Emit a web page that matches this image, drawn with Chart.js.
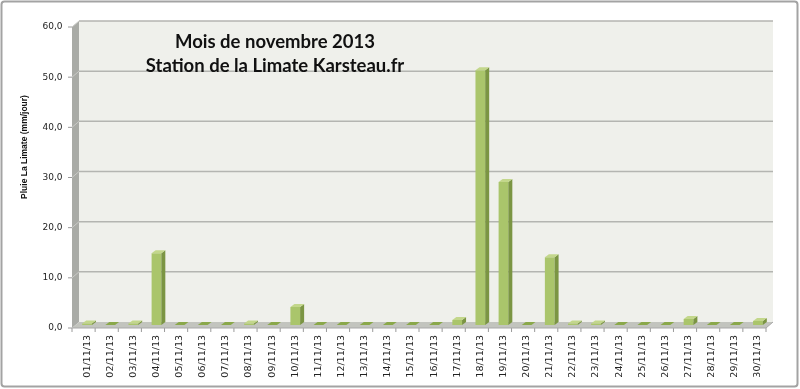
<!DOCTYPE html>
<html>
<head>
<meta charset="utf-8">
<script src="https://cdn.jsdelivr.net/npm/chart.js@4.4.0/dist/chart.umd.min.js"></script>
<style>
  html, body { margin: 0; padding: 0; background: #fff; }
  #wrap { width: 800px; height: 389px; position: relative; }
</style>
</head>
<body>
<div id="wrap"><canvas id="rainChart"></canvas></div>
<script>
const days = ['01/11/13', '02/11/13', '03/11/13', '04/11/13', '05/11/13', '06/11/13', '07/11/13', '08/11/13', '09/11/13', '10/11/13',
              '11/11/13', '12/11/13', '13/11/13', '14/11/13', '15/11/13', '16/11/13', '17/11/13', '18/11/13', '19/11/13', '20/11/13',
              '21/11/13', '22/11/13', '23/11/13', '24/11/13', '25/11/13', '26/11/13', '27/11/13', '28/11/13', '29/11/13', '30/11/13'];
const rain = [0.3, 0, 0.3, 14.3, 0, 0, 0, 0.3, 0, 3.6,
              0, 0, 0, 0, 0, 0, 1.0, 50.8, 28.5, 0,
              13.5, 0.3, 0.3, 0, 0, 0, 1.2, 0, 0, 0.8];
const yMax = 60;
const yStep = 10;
const titleLines = ['Mois de novembre 2013', 'Station de la Limate Karsteau.fr'];
const yTitle = 'Pluie La Limate (mm/jour)';

// 3d look: walls depth and bar depth (pixels)
const WALL_DX = 7, WALL_DY = 6;
const BAR_DX = 4, BAR_DY = 3;

function poly(ctx, pts, fill) {
    ctx.beginPath();
    ctx.moveTo(pts[0][0], pts[0][1]);
    for (let i = 1; i < pts.length; i++) ctx.lineTo(pts[i][0], pts[i][1]);
    ctx.closePath();
    ctx.fillStyle = fill;
    ctx.fill();
}

function line(ctx, x1, y1, x2, y2, color, w) {
    ctx.beginPath();
    ctx.moveTo(x1, y1);
    ctx.lineTo(x2, y2);
    ctx.strokeStyle = color;
    ctx.lineWidth = w;
    ctx.stroke();
}

const wallsPlugin = {
    id: 'walls',
    beforeDraw(chart) {
        const ctx = chart.ctx;
        const a = chart.chartArea;
        const ys = chart.scales.y;
        const xs = chart.scales.x;
        const hx = WALL_DX / 2, hy = WALL_DY / 2;
        // back plane and front plane around the middle one (chartArea)
        const bl = a.left + hx, br = a.right + hx, bt = a.top - hy, bb = a.bottom - hy;
        const fl = a.left - hx, fr = a.right - hx, ft = a.top + hy, fb = a.bottom + hy;

        ctx.save();
        ctx.fillStyle = '#fff';
        ctx.fillRect(0, 0, chart.width, chart.height);

        // outer frame
        ctx.beginPath();
        ctx.roundRect(1.5, 1.5, 796, 385, 3);
        ctx.strokeStyle = '#a3a3a3';
        ctx.lineWidth = 2;
        ctx.stroke();

        // back wall, left wall, floor
        ctx.fillStyle = '#eff0eb';
        ctx.fillRect(bl, bt, br - bl, bb - bt);
        poly(ctx, [[fl, ft], [bl, bt], [bl, bb], [fl, fb]], '#a9aba6');
        poly(ctx, [[fl, fb], [bl, bb], [br, bb], [fr, fb]], '#c2c4be');

        // grid lines from the y scale
        ys.ticks.forEach(t => {
            const py = ys.getPixelForValue(t.value);
            if (t.value > 0) {
                line(ctx, bl, py - hy, br, py - hy, '#b4b5b1', 1.5);
                line(ctx, fl, py + hy, bl, py - hy, '#c9cac6', 1);
            }
            line(ctx, fl - 4, py + hy, fl, py + hy, '#9a9a9a', 1);
        });

        // x tick marks under the front edge of the floor
        for (let i = 0; i <= days.length; i++) {
            const px = xs.getPixelForValue(i - 0.5) - hx;
            line(ctx, px, fb, px, fb + 4, '#9a9a9a', 1);
        }
        line(ctx, fl, fb, fr, fb, '#a8a8a8', 1);
        line(ctx, fr, fb, br, bb, '#a8a8a8', 1);
        ctx.restore();
    },
    afterDatasetsDraw(chart) {
        const ctx = chart.ctx;
        const meta = chart.getDatasetMeta(0);
        ctx.save();
        meta.data.forEach(bar => {
            const p = bar.getProps(['x', 'y', 'base', 'width'], true);
            const l = p.x - p.width / 2, r = p.x + p.width / 2;
            // side face
            poly(ctx, [[r, p.y], [r + BAR_DX, p.y - BAR_DY], [r + BAR_DX, p.base - BAR_DY], [r, p.base]], '#7b9543');
            // top face (flat days get a darker one)
            const topColor = (p.base - p.y < 1) ? '#8aa84a' : '#c3d78b';
            poly(ctx, [[l, p.y], [l + BAR_DX, p.y - BAR_DY], [r + BAR_DX, p.y - BAR_DY], [r, p.y]], topColor);
        });
        ctx.restore();
    },
    afterDraw(chart) {
        const ctx = chart.ctx;
        ctx.save();
        ctx.fillStyle = '#111';
        ctx.textAlign = 'center';
        ctx.textBaseline = 'alphabetic';
        ctx.font = 'bold 18.5px Lato';
        ctx.fillText(titleLines[0], 275, 48);
        ctx.fillText(titleLines[1], 275, 72);

        ctx.translate(25, 147);
        ctx.rotate(-Math.PI / 2);
        ctx.textBaseline = 'middle';
        ctx.font = 'bold 8.5px "Liberation Sans"';
        ctx.fillStyle = '#111';
        ctx.fillText(yTitle, 0, 0);
        ctx.restore();
    }
};

new Chart(document.getElementById('rainChart'), {
    type: 'bar',
    data: {
        labels: days,
        datasets: [{
            label: yTitle,
            data: rain,
            backgroundColor: '#aac56b',
            borderWidth: 0,
            barPercentage: 0.42,
            categoryPercentage: 1.0
        }]
    },
    options: {
        responsive: true,
        maintainAspectRatio: false,
        animation: false,
        layout: { padding: { top: 24, right: 30.5, bottom: 0, left: 0 } },
        plugins: {
            legend: { display: false },
            tooltip: { enabled: false }
        },
        scales: {
            x: {
                grid: { display: false, drawTicks: false },
                border: { display: false },
                ticks: {
                    autoSkip: false,
                    maxRotation: 90,
                    minRotation: 90,
                    padding: 10,
                    color: '#222',
                    font: { family: 'DejaVu Sans', size: 9.5 }
                },
                afterFit: s => { s.height = 64; }
            },
            y: {
                min: 0,
                max: yMax,
                grid: { display: false, drawTicks: false },
                border: { display: false },
                ticks: {
                    stepSize: yStep,
                    padding: 13,
                    labelOffset: 3,
                    color: '#222',
                    font: { family: 'DejaVu Sans', size: 9 },
                    callback: v => v.toFixed(1).replace('.', ',')
                },
                afterFit: s => { s.width = 75.5; }
            }
        }
    },
    plugins: [wallsPlugin]
});
</script>
</body>
</html>
